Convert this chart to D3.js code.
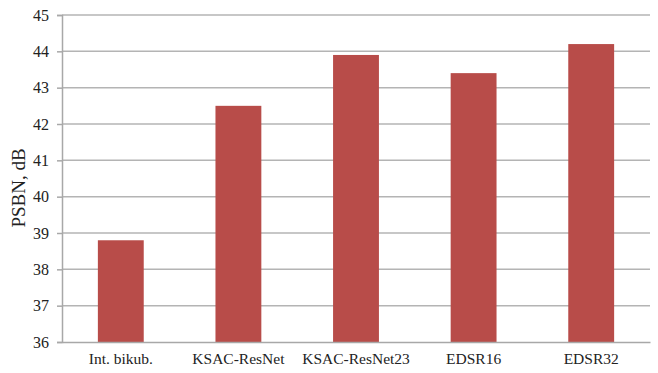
<!DOCTYPE html>
<html>
<head>
<meta charset="utf-8">
<script src="https://cdn.jsdelivr.net/npm/d3@7"></script>
<style>
  body { margin: 0; background: #fff; }
  text { font-family: "Liberation Serif", "Times New Roman", serif; fill: #222; }
</style>
</head>
<body>
<svg width="658" height="373"></svg>
<script>
// chart data
var categories = ["Int. bikub.", "KSAC-ResNet", "KSAC-ResNet23", "EDSR16", "EDSR32"];
var values = [38.8, 42.5, 43.9, 43.4, 44.2];
var yTicks = [36, 37, 38, 39, 40, 41, 42, 43, 44, 45];

var svg = d3.select("svg"),
  margin = { top: 15, right: 8, bottom: 31, left: 62 },
  width = +svg.attr("width"),
  height = +svg.attr("height");

const innerWidth = width - margin.left - margin.right;
const innerHeight = height - margin.top - margin.bottom;

const xScale = d3.scaleBand()
  .domain(categories)
  .range([0, innerWidth])
  .paddingInner(0.61)
  .paddingOuter(0.305);

const yScale = d3.scaleLinear()
  .domain([36, 45])
  .range([innerHeight, 0]);

const g = svg.append("g")
  .attr("transform", "translate(" + margin.left + "," + margin.top + ")");

// gridlines
g.selectAll("line.grid")
  .data(yTicks.slice(1))
  .enter()
  .append("line")
  .attr("class", "grid")
  .attr("x1", 0)
  .attr("x2", innerWidth)
  .attr("y1", d => yScale(d))
  .attr("y2", d => yScale(d))
  .attr("stroke", "#b4b4b4")
  .attr("stroke-width", 1.5);

// bars
g.selectAll("rect")
  .data(values)
  .enter()
  .append("rect")
  .attr("x", (d, i) => xScale(categories[i]))
  .attr("y", d => yScale(d))
  .attr("width", xScale.bandwidth())
  .attr("height", d => innerHeight - yScale(d))
  .attr("fill", "#b84c49");

// y axis
const yAxis = g.append("g")
  .call(d3.axisLeft(yScale).tickValues(yTicks).tickSize(5).tickPadding(8).tickFormat(d3.format("d")));
yAxis.select(".domain").attr("stroke", "#a8a8a8").attr("stroke-width", 1.5);
yAxis.selectAll(".tick line").attr("stroke", "#a8a8a8").attr("stroke-width", 1.5);
yAxis.selectAll("text").attr("font-size", "16px").style("font-family", "Liberation Serif").attr("fill", "#333");

// x axis
const xAxis = g.append("g")
  .attr("transform", "translate(0," + innerHeight + ")")
  .call(d3.axisBottom(xScale).tickSize(0).tickPadding(11));
xAxis.select(".domain").attr("stroke", "#a8a8a8").attr("stroke-width", 1.5);
xAxis.selectAll("text").attr("font-size", "15.5px").style("font-family", "Liberation Serif").attr("fill", "#333");

// y label
svg.append("text")
  .attr("transform", "rotate(-90)")
  .attr("x", -188)
  .attr("y", 25)
  .attr("text-anchor", "middle")
  .attr("font-size", "19px")
  .attr("fill", "#333")
  .text("PSBN, dB");
</script>
</body>
</html>
